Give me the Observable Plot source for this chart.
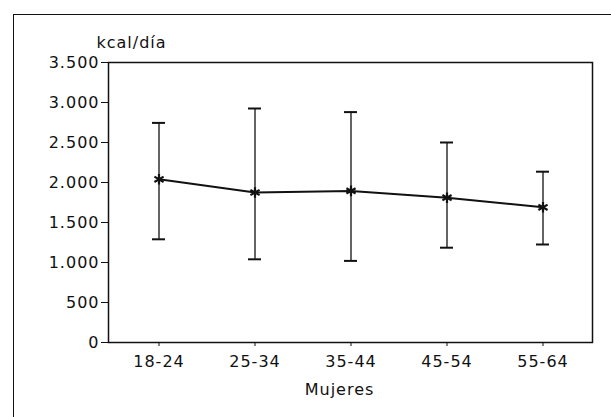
<!DOCTYPE html>
<html>
<head>
<meta charset="utf-8">
<script src="https://cdn.jsdelivr.net/npm/d3@7"></script>
<script src="https://cdn.jsdelivr.net/npm/@observablehq/plot@0.6"></script>
<style>
  html, body { margin: 0; padding: 0; background: #fff; overflow: hidden; }
  #wrap { position: relative; width: 611px; height: 417px; overflow: hidden; }
  #outer { position: absolute; left: 13px; top: 14px; width: 700px; height: 500px; border: 1.5px solid #111; box-sizing: border-box; }
  #chart { position: absolute; left: 0; top: 0; }
  svg text { letter-spacing: 1px; }
</style>
</head>
<body>
<div id="wrap"><div id="outer"></div><div id="chart"></div></div>
<script>
const groups = ["18-24", "25-34", "35-44", "45-54", "55-64"];
const meanKcal = [2040, 1875, 1895, 1810, 1690];
const lowerKcal = [1290, 1040, 1020, 1185, 1225];
const upperKcal = [2745, 2925, 2880, 2500, 2135];
const yTicks = [0, 500, 1000, 1500, 2000, 2500, 3000, 3500];
const yTitle = "kcal/día";
const xTitle = "Mujeres";

const data = groups.map((g, i) => ({g, mean: meanKcal[i], lo: lowerKcal[i], hi: upperKcal[i]}));
const fmt = d => d3.format(",")(d).replace(/,/g, ".");

const chart = Plot.plot({
  width: 611,
  height: 417,
  marginLeft: 108,
  marginRight: 19,
  marginTop: 62,
  marginBottom: 75,
  style: {fontFamily: "DejaVu Sans", fontSize: "16px", color: "#111", background: "transparent"},
  x: {type: "band", domain: groups, paddingInner: 0.866, paddingOuter: 0.433},
  y: {domain: [0, 3500]},
  marks: [
    Plot.frame({stroke: "#111", strokeWidth: 1.5}),
    Plot.axisY({ticks: yTicks, tickFormat: fmt, tickSize: 7, tickPadding: 2, label: null, fontSize: 16, stroke: "#111"}),
    Plot.axisX({tickSize: 4, tickPadding: 9, label: null, fontSize: 16}),
    Plot.ruleX(data, {x: "g", y1: "lo", y2: "hi", stroke: "#111", strokeWidth: 1.3}),
    Plot.tickY(data, {x: "g", y: "lo", stroke: "#111", strokeWidth: 2}),
    Plot.tickY(data, {x: "g", y: "hi", stroke: "#111", strokeWidth: 2}),
    Plot.line(data, {x: "g", y: "mean", stroke: "#111", strokeWidth: 2}),
    Plot.dot(data, {x: "g", y: "mean", symbol: "asterisk", r: 5, stroke: "#111", strokeWidth: 2.2}),
    Plot.text([yTitle], {frameAnchor: "top-left", text: d => d, textAnchor: "start", lineAnchor: "bottom", dx: -12, dy: -15, fontSize: 16, fill: "#111"}),
    Plot.text([xTitle], {frameAnchor: "bottom", text: d => d, textAnchor: "middle", lineAnchor: "top", dx: -11, dy: 41, fontSize: 16, fill: "#111"})
  ]
});
document.getElementById("chart").appendChild(chart);
</script>
</body>
</html>
